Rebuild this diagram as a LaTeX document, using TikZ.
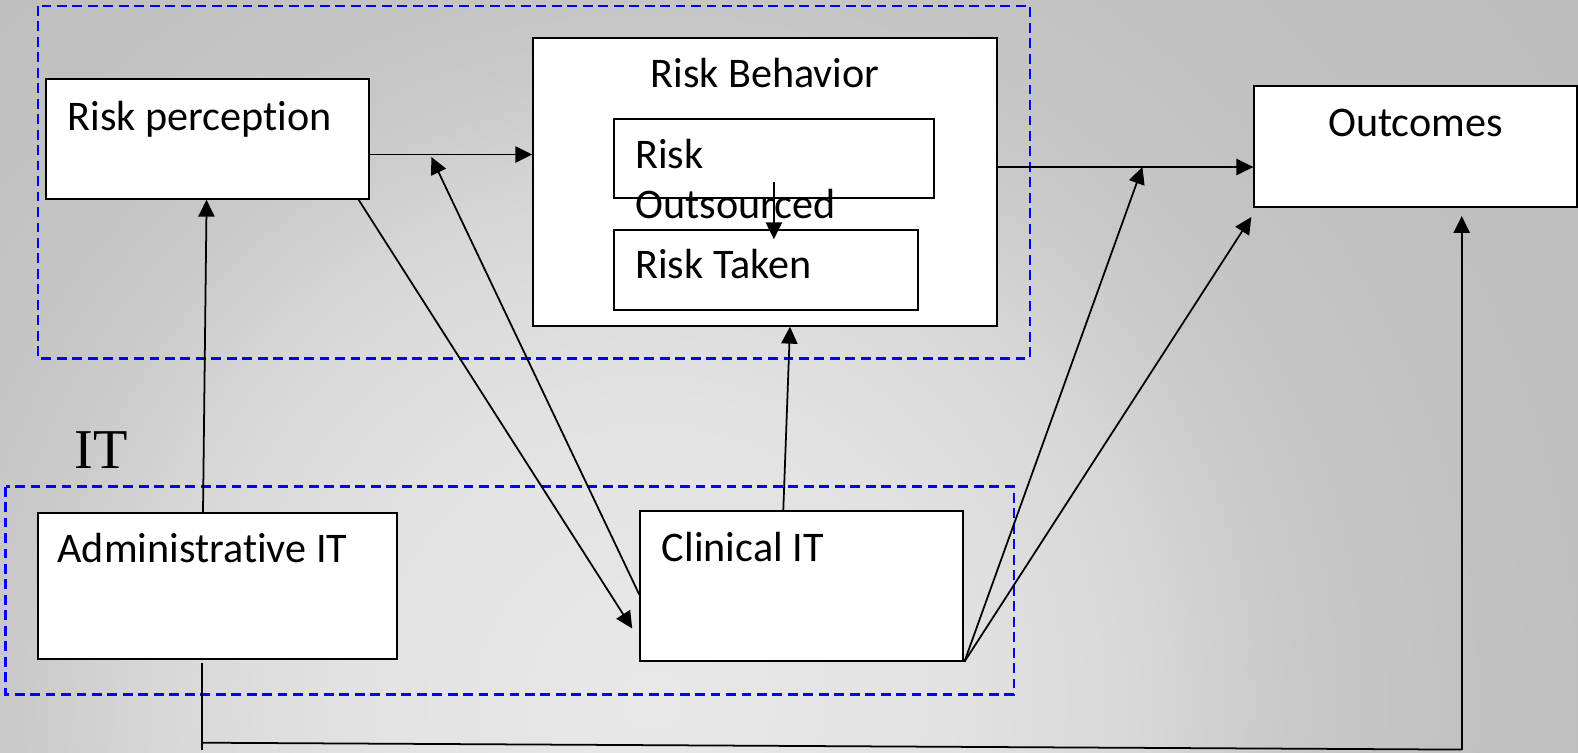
\documentclass[tikz,border=0pt]{standalone}
\usepackage{fontspec}
\setmainfont{Carlito}[Ligatures=NoCommon]
\newfontfamily\itserif{Liberation Serif}
\usetikzlibrary{positioning,arrows.meta}

\definecolor{bgedge}{RGB}{189,189,189}
\pgfdeclareradialshading{bgshade}{\pgfpointorigin}{%
  rgb(0bp)=(0.910,0.910,0.910);
  rgb(6.25bp)=(0.886,0.886,0.886);
  rgb(10.42bp)=(0.843,0.843,0.843);
  rgb(13.54bp)=(0.784,0.784,0.784);
  rgb(16.67bp)=(0.761,0.761,0.761);
  rgb(20.83bp)=(0.745,0.745,0.745);
  rgb(25bp)=(0.741,0.741,0.741);
  rgb(50bp)=(0.741,0.741,0.741)}

\tikzstyle{b} = [rectangle, draw, fill=white, sharp corners, line width=0.6pt, inner sep=0pt]
\tikzstyle{tx} = [inner sep=0pt, font=\fontsize{12}{14.4}\selectfont, align=left]
\tikzstyle{l} = [draw, line width=0.5pt, ->]
\tikzstyle{grp} = [draw=blue, line width=0.75pt, dash pattern=on 2.8pt off 1.6pt]

\begin{document}
\begin{tikzpicture}[>={Triangle[length=4.8pt,width=4.6pt]}]
    % Background
    \useasboundingbox (0,0) rectangle (15.78,7.52);
    \begin{scope}
        \clip (0,0) rectangle (15.78,7.52);
        \fill [bgedge] (0,0) rectangle (15.78,7.52);
        \shade [shading=bgshade] (6.5,0.52) circle (12);
    \end{scope}
    \draw [grp] (0.379,7.46) rectangle (10.30,3.937);
    \draw [grp] (0.058,2.653) rectangle (10.14,0.577);

    % Place nodes
    \node [b, minimum width=3.234cm, minimum height=1.194cm] (riskper) at (2.076,6.13) {};
    \node [b, minimum width=4.634cm, minimum height=2.874cm] (behav) at (7.65,5.70) {};
    \node [b, minimum width=3.203cm, minimum height=0.796cm] (outsrc) at (7.739,5.935) {};
    \node [b, minimum width=3.043cm, minimum height=0.80cm] (taken) at (7.659,4.817) {};
    \node [b, minimum width=3.224cm, minimum height=1.207cm] (outc) at (14.156,6.057) {};
    \node [b, minimum width=3.594cm, minimum height=1.454cm] (admin) at (2.176,1.66) {};
    \node [b, right of=admin, node distance=5.842cm, minimum width=3.23cm, minimum height=1.496cm] (clin) {};

    % Texts
    \node [tx, anchor=base west] (riskper-t) at ([xshift=0.22cm,yshift=-0.52cm]riskper.north west) {Risk perception};
    \node [tx, anchor=base] (behav-t) at ([yshift=-0.507cm]behav.north) {Risk Behavior};
    \node [tx, anchor=base west] (outsrc-t) at ([xshift=0.22cm,yshift=-1.013cm]outsrc.north west) {Risk\\Outsourced};
    \node [tx, anchor=base west] (taken-t) at ([xshift=0.22cm,yshift=-0.497cm]taken.north west) {Risk Taken};
    \node [tx, anchor=base] (outc-t) at ([yshift=-0.513cm]outc.north) {Outcomes};
    \node [tx, anchor=base west] (admin-t) at ([xshift=0.20cm,yshift=-0.507cm]admin.north west) {Administrative IT};
    \node [tx, anchor=base west] (clin-t) at ([xshift=0.22cm,yshift=-0.513cm]clin.north west) {Clinical IT};
    \node [inner sep=0pt, anchor=base west, font=\itserif\fontsize{16}{19}\selectfont] (itlbl) at (0.737,2.837) {IT};

    % Draw edges
    \coordinate (rp-out) at ([yshift=-0.155cm]riskper.east);
    \coordinate (bh-out) at ([yshift=0.15cm]behav.east);
    \path [l] (rp-out) -- (rp-out -| behav.west);
    \path [l] ([xshift=-0.146cm]admin.north) -- ([xshift=-0.01cm]riskper.south);
    \path [l] ([xshift=1.51cm]riskper.south) -- ([xshift=-0.07cm,yshift=-0.425cm]clin.west);
    \path [l] ([yshift=-0.085cm]clin.west) -- ([xshift=0.61cm,yshift=-0.025cm]rp-out);
    \path [l] ([xshift=-0.185cm]clin.north) -- ([xshift=0.25cm]behav.south);
    \path [l] ([yshift=-0.235cm]outsrc.center) -- ([yshift=-0.1cm]outsrc.center |- taken.north);
    \path [l] (bh-out) -- (bh-out -| outc.west);
    \path [l] (clin.south east) -- ([xshift=1.447cm]bh-out);
    \path [l] (clin.south east) -- ([xshift=-0.02cm,yshift=-0.093cm]outc.south west);

    % Admin IT to Outcomes
    \coordinate (ad-b) at ([xshift=-0.158cm,yshift=-0.033cm]admin.south);
    \coordinate (ad-d) at (ad-b |- 0,0.02);
    \coordinate (bl) at (2.018,0.093);
    \coordinate (br) at ([xshift=0.461cm]outc.south |- 0,0.024);
    \draw [line width=0.5pt] (ad-b) -- (ad-d);
    \draw [line width=0.5pt] (bl) -- (br);
    \path [l] (br) -- ([yshift=-0.083cm]br |- outc.south);

\end{tikzpicture}
\end{document}
